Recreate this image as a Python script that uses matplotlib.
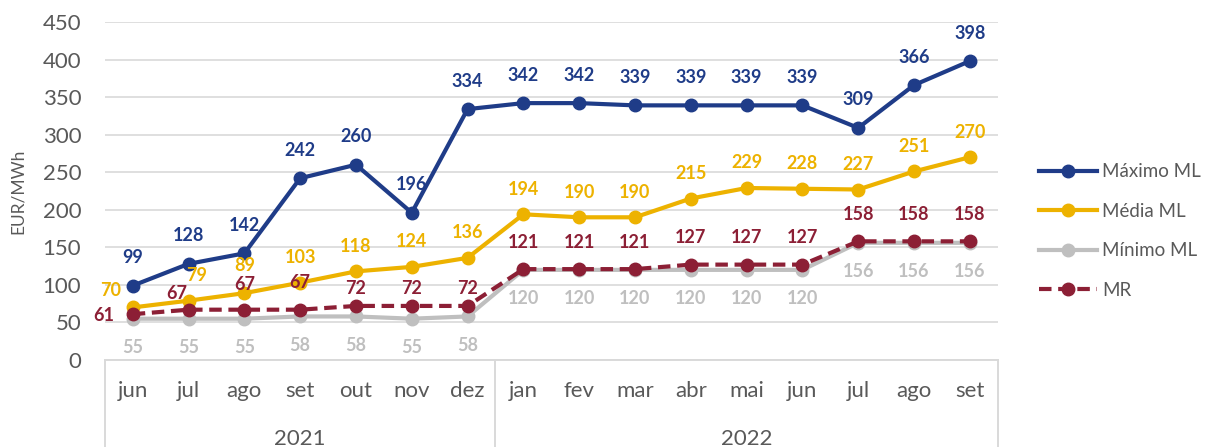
import matplotlib.pyplot as plt
from matplotlib.lines import Line2D
import matplotlib.transforms as mtransforms

plt.rcParams['font.family'] = ['Lato', 'DejaVu Sans']

# dados
meses = ["jun", "jul", "ago", "set", "out", "nov", "dez",
         "jan", "fev", "mar", "abr", "mai", "jun", "jul", "ago", "set"]
anos = ["2021", "2022"]
n_meses_ano = [7, 9]
maximo_ml = [99, 128, 142, 242, 260, 196, 334, 342, 342, 339, 339, 339, 339, 309, 366, 398]
media_ml = [70, 79, 89, 103, 118, 124, 136, 194, 190, 190, 215, 229, 228, 227, 251, 270]
minimo_ml = [55, 55, 55, 58, 58, 55, 58, 120, 120, 120, 120, 120, 120, 156, 156, 156]
mr = [61, 67, 67, 67, 72, 72, 72, 121, 121, 121, 127, 127, 127, 158, 158, 158]

c_max = "#1F3C88"
c_med = "#EDB200"
c_min = "#BFBFBF"
c_mr = "#8C1F35"
c_txt = "#595959"
c_grid = "#D9D9D9"

fig = plt.figure(figsize=(12.05, 4.47), dpi=100)
ax = fig.add_axes([0.087, 0.1946, 0.741, 0.7562])
x = list(range(len(meses)))

ax.plot(x, minimo_ml, color=c_min, lw=3, marker="o", ms=9, label="Mínimo ML", zorder=3)
ax.plot(x, media_ml, color=c_med, lw=3, marker="o", ms=9, label="Média ML", zorder=4)
ax.plot(x, maximo_ml, color=c_max, lw=3, marker="o", ms=9, label="Máximo ML", zorder=5)
ax.plot(x, mr, color=c_mr, lw=3, ls=(0, (3, 1.6)), marker="o", ms=9, label="MR", zorder=4)

# rótulos dos dados (deslocamento em pixels; 1px = 0.72pt)
def rotular(valores, cor, dy_px, especiais=None):
    especiais = especiais or {}
    for i, v in enumerate(valores):
        dx, dy = especiais.get(i, (0, dy_px))
        ax.annotate(str(v), (i, v), xytext=(dx * 0.72, dy * 0.72), textcoords="offset points",
                    ha="center", va="center", color=cor, fontsize=13, fontweight="bold",
                    zorder=6)

rotular(maximo_ml, c_max, 28)
rotular(media_ml, c_med, 25, {0: (-22, 17), 1: (8, 25), 2: (0, 28)})
rotular(minimo_ml, c_min, -29)
rotular(mr, c_mr, 27, {0: (-29, -1), 1: (-12, 16), 2: (0, 25),
                       4: (0, 17), 5: (0, 17), 6: (0, 17)})

ax.set_xlim(-0.5, len(meses) - 0.5)
ax.set_ylim(0, 450)
ax.set_yticks(range(0, 451, 50))
ax.tick_params(axis="y", length=0, labelsize=16, labelcolor=c_txt, pad=17)
ax.grid(axis="y", color=c_grid, lw=1.2)
ax.set_axisbelow(True)
for s in ["top", "right", "left"]:
    ax.spines[s].set_visible(False)
ax.spines["bottom"].set_color(c_grid)
ax.spines["bottom"].set_linewidth(1.4)
ax.set_ylabel("EUR/MWh", fontsize=12.5, color=c_txt)
ax.yaxis.set_label_coords(-0.088, 0.5)

ax.set_xticks(x)
ax.set_xticklabels(meses)
ax.tick_params(axis="x", length=0, labelsize=16, labelcolor=c_txt, pad=15)

# eixo de anos
trans = mtransforms.blended_transform_factory(ax.transData, ax.transAxes)
inicio = -0.5
for ano, n in zip(anos, n_meses_ano):
    ax.text(inicio + n / 2, -0.235, ano, transform=trans, ha="center", va="center",
            fontsize=16, color=c_txt)
    inicio += n
limites = [-0.5, 6.5, len(meses) - 0.5]
for xl in limites:
    ax.add_line(Line2D([xl, xl], [0, -0.3], transform=trans, color=c_grid, lw=1.4, clip_on=False))

h, l = ax.get_legend_handles_labels()
ordem = ["Máximo ML", "Média ML", "Mínimo ML", "MR"]
hs = [h[l.index(o)] for o in ordem]
fig.legend(hs, ordem, loc="center left", bbox_to_anchor=(0.848, 0.483), frameon=False,
           fontsize=13.5, labelcolor=c_txt, handlelength=3.1, labelspacing=1.2, handletextpad=0.3)

fig.savefig("out.png", dpi=100)
